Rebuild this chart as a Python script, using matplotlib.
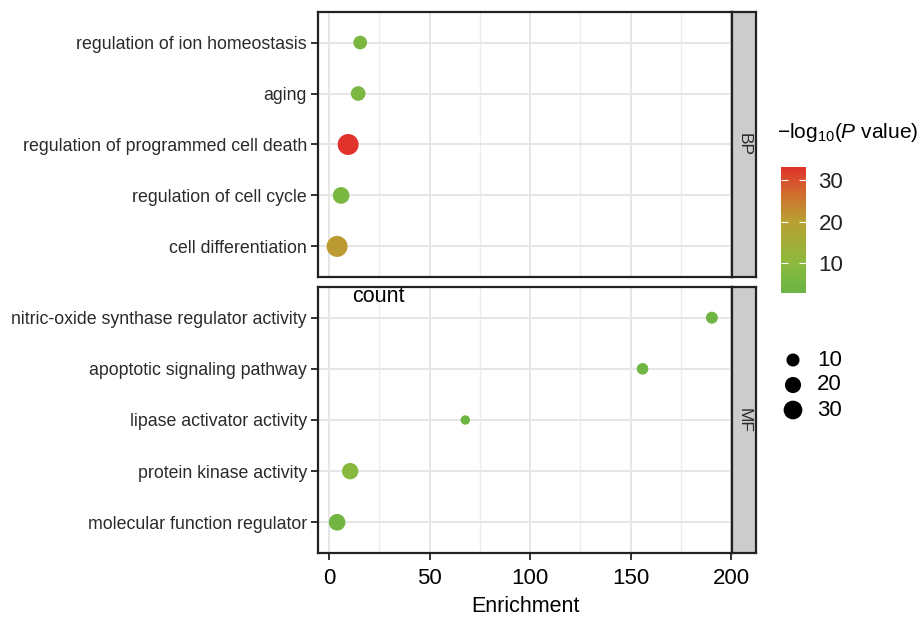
import matplotlib
matplotlib.use("Agg")
import matplotlib.pyplot as plt
import numpy as np
from matplotlib.colors import LinearSegmentedColormap, Normalize
from matplotlib.cm import ScalarMappable

plt.rcParams['font.family'] = ['Liberation Sans', 'DejaVu Sans']
plt.rcParams['mathtext.fontset'] = 'custom'
plt.rcParams['mathtext.rm'] = 'Liberation Sans'
plt.rcParams['mathtext.it'] = 'Liberation Sans:italic'

# data (top to bottom in each panel)
bp_terms = ["regulation of ion homeostasis", "aging", "regulation of programmed cell death",
            "regulation of cell cycle", "cell differentiation"]
bp_enrich = [15.5, 14.5, 9.5, 6.0, 4.0]
bp_logp = [6.0, 6.5, 33.0, 6.0, 21.0]
bp_count = [12, 15, 40, 22, 40]

mf_terms = ["nitric-oxide synthase regulator activity", "apoptotic signaling pathway",
            "lipase activator activity", "protein kinase activity", "molecular function regulator"]
mf_enrich = [190.5, 156.0, 67.8, 10.5, 4.0]
mf_logp = [4.0, 4.0, 4.0, 9.0, 4.5]
mf_count = [7, 6, 1, 21, 22]

legend_counts = [10, 20, 30]
cbar_ticks = [10, 20, 30]

cmap = LinearSegmentedColormap.from_list("pv", [
    (0.0, "#6ab445"), (0.23, "#8cba3d"), (0.57, "#b8a032"),
    (0.80, "#d26a2e"), (1.0, "#e0302a")])
norm = Normalize(2.9, 33.2)


def size_of(c):
    d_px = np.sqrt(80 + 9.0 * np.asarray(c, dtype=float))
    return (d_px * 72 / 100) ** 2


fig = plt.figure(figsize=(9.21, 6.18), dpi=100)
W, H = 921, 618


def box(x0, y0, x1, y1):
    return [x0 / W, 1 - y1 / H, (x1 - x0) / W, (y1 - y0) / H]


panels = [(box(318, 12, 732, 277), box(732, 12, 756, 277), bp_terms, bp_enrich, bp_logp, bp_count, "BP"),
          (box(318, 287, 732, 553), box(732, 287, 756, 553), mf_terms, mf_enrich, mf_logp, mf_count, "MF")]

for i, (rect, srect, terms, enr, lp, cnt, lab) in enumerate(panels):
    ax = fig.add_axes(rect)
    ypos = np.arange(len(terms))[::-1]
    ax.scatter(enr, ypos, s=size_of(cnt), c=lp, cmap=cmap, norm=norm, linewidths=0, zorder=3)
    ax.set_xlim(-5.5, 200.5)
    ax.set_ylim(-0.6, len(terms) - 0.4)
    ax.set_yticks(ypos)
    ax.set_yticklabels(terms, fontsize=12.8, color="#2a2a2a")
    ax.set_xticks([0, 50, 100, 150, 200])
    ax.set_xticks([25, 75, 125, 175], minor=True)
    ax.grid(True, which="major", color="#e6e6e6", linewidth=1.4, zorder=0)
    ax.grid(True, which="minor", axis="x", color="#ececec", linewidth=1.0, zorder=0)
    ax.set_axisbelow(True)
    ax.tick_params(axis="y", length=5, width=1.3, color="#222222", pad=3)
    ax.tick_params(axis="x", which="minor", length=0)
    for sp in ax.spines.values():
        sp.set_linewidth(1.6)
        sp.set_color("#222222")
    if i == 0:
        ax.tick_params(axis="x", which="major", length=0, labelbottom=False)
    else:
        ax.tick_params(axis="x", which="major", length=5, width=1.3, labelsize=16, color="#222222", pad=6)
        ax.set_xlabel("Enrichment", fontsize=15.5, labelpad=5)
    sax = fig.add_axes(srect)
    sax.set_facecolor("#cccccc")
    sax.set_xticks([])
    sax.set_yticks([])
    for sp in sax.spines.values():
        sp.set_linewidth(1.6)
        sp.set_color("#222222")
    sax.text(0.5, 0.5, lab, rotation=-90, ha="center", va="center", fontsize=12.5,
             color="#2a2a2a", transform=sax.transAxes)

# colour bar legend
fig.text(777 / W, 1 - 132 / H, r"$-$log$_{10}$($P$ value)", fontsize=15, va="center", ha="left")
cax = fig.add_axes(box(781, 167, 806, 293))
sm = ScalarMappable(norm=norm, cmap=cmap)
cb = fig.colorbar(sm, cax=cax)
cb.outline.set_visible(False)
cb.set_ticks(cbar_ticks)
cax.tick_params(direction="in", length=5, width=0.8, colors="white", left=True, right=True)
for t in cax.get_yticklabels():
    t.set_color("#222222")
    t.set_fontsize(16)
cax.tick_params(axis="y", pad=9)

# count legend
fig.text(352 / W, 1 - 296 / H, "count", fontsize=15.5, va="center", ha="left")
lax = fig.add_axes(box(775, 345, 875, 425))
lax.axis("off")
lax.set_xlim(775, 875)
lax.set_ylim(425, 345)
ly = [360, 385, 410]
lax.scatter([793] * 3, ly, s=size_of(legend_counts), c="black", linewidths=0)
for yy, cc in zip(ly, legend_counts):
    lax.text(817, yy, str(cc), fontsize=16, va="center", ha="left")

fig.savefig("out.png", dpi=100)
